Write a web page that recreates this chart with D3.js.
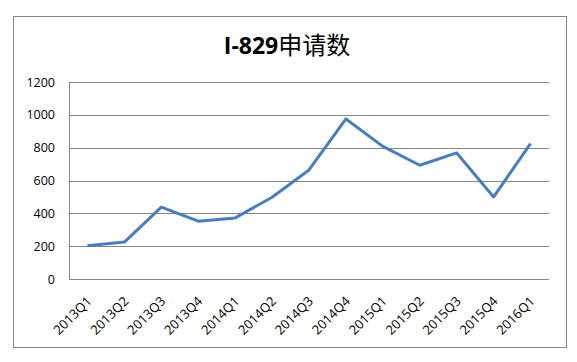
<!DOCTYPE html>
<html>
<head>
<meta charset="utf-8">
<script src="https://cdn.jsdelivr.net/npm/d3@7"></script>
<style>
  body { margin: 0; background: #fff; }
  text { font-family: "Open Sans", "Noto Sans", sans-serif; }
</style>
</head>
<body>
<svg width="577" height="362"></svg>
<script>
const quarters = ["2013Q1", "2013Q2", "2013Q3", "2013Q4", "2014Q1", "2014Q2", "2014Q3",
  "2014Q4", "2015Q1", "2015Q2", "2015Q3", "2015Q4", "2016Q1"];
const filings = [203, 225, 438, 352, 372, 498, 664, 975, 808, 693, 768, 500, 825];
const yTicks = [0, 200, 400, 600, 800, 1000, 1200];

const svg = d3.select("svg");
const margin = { top: 82, left: 69, right: 28, bottom: 83 };
const w = 577 - margin.left - margin.right;
const h = 362 - margin.top - margin.bottom;

// outer frame
svg.append("rect")
  .attr("x", 13.5).attr("y", 16.5)
  .attr("width", 553).attr("height", 331)
  .attr("fill", "#fff").attr("stroke", "#868686");

const title = svg.append("text")
  .attr("x", 287).attr("y", 54)
  .attr("text-anchor", "middle")
  .style("font-size", "23px");
title.append("tspan").style("font-weight", "bold").text("I-829");
title.append("tspan").style("font-family", "'Noto Sans CJK SC'").style("font-size", "24px").text("申请数");

const g = svg.append("g").attr("transform", `translate(${margin.left},${margin.top})`);

const x = d3.scaleBand().domain(quarters).range([0, w]);
const y = d3.scaleLinear().domain([0, 1200]).range([h, 0]);

// gridlines
g.selectAll(".grid").data(yTicks).enter().append("line")
  .attr("x1", 0).attr("x2", w)
  .attr("y1", d => Math.round(y(d)) + 0.5).attr("y2", d => Math.round(y(d)) + 0.5)
  .attr("stroke", "#868686");

g.append("line")
  .attr("x1", 0.5).attr("x2", 0.5).attr("y1", 0).attr("y2", h)
  .attr("stroke", "#868686");

const yAxis = g.append("g").call(d3.axisLeft(y).tickValues(yTicks).tickFormat(d3.format("d")).tickSize(0).tickPadding(14));
yAxis.select(".domain").remove();
yAxis.selectAll("text").style("font-size", "12.5px").attr("fill", "#000");

const xAxis = g.append("g").attr("transform", `translate(0,${h})`)
  .call(d3.axisBottom(x).tickSize(0));
xAxis.select(".domain").remove();
xAxis.selectAll("text")
  .style("font-size", "13px").attr("fill", "#000")
  .attr("text-anchor", "end")
  .attr("y", 0).attr("dy", null)
  .attr("transform", "translate(5,23) rotate(-45)");

const line = d3.line()
  .x((d, i) => x(quarters[i]) + x.bandwidth() / 2)
  .y(d => y(d));

g.append("path")
  .datum(filings)
  .attr("d", line)
  .attr("fill", "none")
  .attr("stroke", "#4a7ebb")
  .attr("stroke-width", 3)
  .attr("stroke-linejoin", "round");
</script>
</body>
</html>
